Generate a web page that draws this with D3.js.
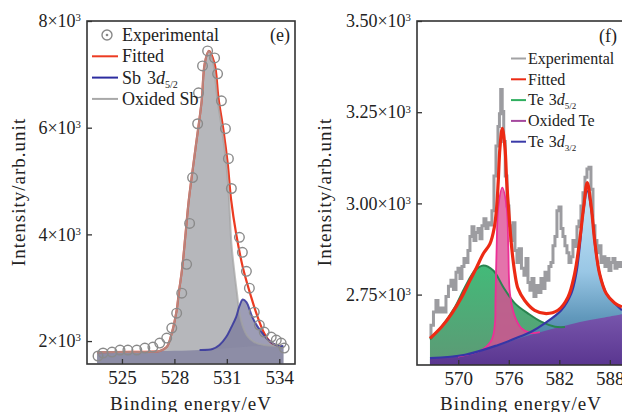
<!DOCTYPE html>
<html>
<head>
<meta charset="utf-8">
<script src="https://cdn.jsdelivr.net/npm/d3@7"></script>
<style>
  body { margin: 0; background: #fff; }
  svg text { font-family: "Liberation Serif", "Times New Roman", serif; fill: #222; }
</style>
</head>
<body>
<svg id="chart" width="622" height="412"></svg>
<script>
// ---- panel (e): Sb 3d [binding energy eV, counts] ----
const sbExperimental = [
  [523.63,1720],[523.92,1776],[524.43,1794],[524.89,1832],[525.34,1832],[525.85,1832],
  [526.31,1869],[526.77,1888],[527.16,1963],[527.56,2056],[527.85,2243],[528.13,2523],
  [528.42,2897],[528.70,3439],[528.87,4205],[529.04,5065],[529.33,6074],[529.38,6654],
  [529.61,7158],[529.90,7439],[530.30,7308],[530.47,7009],[530.69,6504],[530.92,5981],
  [531.09,5420],[531.26,4860],[531.72,3944],[531.89,3663],[532.12,3308],[532.29,2991],
  [532.57,2542],[532.86,2299],[533.14,2168],[533.54,2075],[533.83,2019],[534.11,1963],
  [534.28,1869]
];
const sbFitted = [
  [523.58,1794],[525.46,1796],[526.59,1800],[527.16,1815],[527.56,1888],[527.85,2150],
  [528.13,2579],[528.25,2897],[528.45,3383],[528.64,4019],[528.82,4635],[529.19,5570],
  [529.56,6504],[529.73,7196],[529.97,7439],[530.30,7196],[530.52,6560],[530.81,5944],
  [531.05,5327],[531.25,4635],[531.53,4019],[531.91,3389],[532.39,2828],[532.76,2454],
  [533.14,2144],[533.43,2000],[533.77,1925],[534.11,1907]
];
const sbOxided = [
  [523.58,1794],[525.46,1796],[526.59,1800],[527.16,1815],[527.56,1888],[527.85,2150],
  [528.13,2579],[528.25,2897],[528.45,3383],[528.64,4019],[528.82,4635],[529.19,5570],
  [529.56,6504],[529.73,7196],[529.97,7439],[530.23,7196],[530.45,6560],[530.73,5944],
  [530.97,5327],[531.13,4635],[531.26,3832],[531.40,3383],[531.58,2897],[531.70,2579],
  [531.89,2299],[532.18,2093],[532.57,1981],[533.14,1925],[534.00,1907],[534.23,1907]
];
const sbMetal = [
  [529.44,1832],[530.18,1850],[530.58,1925],[530.96,2075],[531.26,2262],[531.53,2449],
  [531.72,2654],[531.91,2779],[532.12,2729],[532.46,2449],[532.74,2280],[533.03,2150],
  [533.31,2037],[533.60,1963],[534.00,1907],[534.23,1907]
];
const sbBackground = [
  [523.58,1794],[525.46,1794],[527.16,1813],[528.82,1825],[530.01,1841],
  [531.15,1869],[532.29,1897],[533.43,1907],[534.23,1907]
];
const sbXTicks = [525, 528, 531, 534];
const sbYTicks = [2000, 4000, 6000, 8000];

// ---- panel (f): Te 3d ----
const teExperimental = [
  [566.64,2631],[566.88,2666],[567.23,2702],[567.47,2734],[567.71,2702],[568.06,2713],
  [568.42,2702],[568.66,2745],[569.01,2773],[569.25,2789],[569.61,2764],[569.85,2811],
  [570.08,2822],[570.32,2794],[570.56,2827],[570.80,2849],[571.03,2838],[571.27,2871],
  [571.51,2909],[571.75,2936],[571.98,2898],[572.22,2920],[572.46,2931],[572.70,2903],
  [572.93,2939],[573.17,2958],[573.41,2931],[573.65,2947],[573.88,2941],[574.12,2980],
  [574.36,3075],[574.60,3157],[574.83,3211],[574.95,3246],[575.13,3312],[575.31,3252],
  [575.49,3170],[575.67,3075],[575.90,2993],[576.14,2939],[576.38,2898],[576.62,2947],
  [576.85,2871],[577.09,2838],[577.33,2876],[577.68,2822],[577.92,2803],[578.16,2849],
  [578.40,2783],[578.63,2762],[578.87,2794],[579.11,2745],[579.35,2775],[579.70,2756],
  [579.94,2794],[580.18,2767],[580.42,2811],[580.65,2789],[580.89,2827],[581.13,2838],
  [581.37,2884],[581.60,2909],[581.84,2980],[582.08,2990],[582.32,2931],[582.55,2909],
  [582.79,2884],[583.03,2865],[583.27,2838],[583.50,2854],[583.74,2898],[583.98,2882],
  [584.22,2936],[584.45,2952],[584.69,2993],[584.93,3029],[585.17,3072],[585.40,3094],
  [585.64,3099],[585.88,3039],[586.12,2939],[586.35,2898],[586.59,2865],[586.83,2884],
  [587.07,2838],[587.30,2854],[587.54,2827],[587.78,2849],[588.02,2816],[588.25,2838],
  [588.49,2849],[588.73,2822],[588.97,2838],[589.20,2827],[589.44,2838]
];
const teFitted = [
  [566.64,2630],[568.03,2662],[569.22,2698],[570.40,2743],[571.39,2789],[572.19,2825],
  [572.97,2862],[573.76,2889],[574.28,2934],[574.56,2989],[574.75,3061],[574.95,3152],
  [575.23,3206],[575.55,3152],[575.75,3061],[576.02,2971],[576.34,2880],[576.73,2807],
  [577.09,2767],[577.89,2734],[579.07,2707],[580.45,2698],[581.84,2707],[583.03,2743],
  [583.82,2807],[584.42,2898],[584.89,2989],[585.32,3057],[585.80,2989],[586.20,2898],
  [586.79,2807],[587.58,2753],[588.57,2727],[589.44,2716]
];
const te52 = [
  [566.64,2627],[568.03,2662],[569.61,2716],[570.80,2771],[571.98,2816],[572.97,2830],
  [574.16,2816],[575.34,2771],[576.73,2726],[578.31,2698],[579.90,2675],[581.48,2662],
  [582.67,2661]
];
const teOxided = [
  [569.96,2580],[572.78,2598],[573.97,2626],[574.36,2672],[574.42,2734],[574.56,2880],
  [574.75,2989],[575.23,3043],[575.75,2989],[575.94,2880],[576.14,2753],[576.73,2689],
  [577.53,2657],[578.52,2645],[579.70,2647]
];
const te32 = [
  [566.64,2576],[570.80,2585],[574.75,2612],[577.33,2635],[578.67,2648],[580.26,2671],
  [582.23,2707],[583.42,2753],[584.01,2807],[584.42,2880],[584.81,2971],[585.32,3034],
  [585.88,2971],[586.27,2880],[586.79,2807],[587.58,2753],[588.57,2726],[589.44,2707]
];
const teBackground = [
  [566.64,2574],[567.83,2577],[570.20,2582],[572.58,2596],[574.95,2612],[577.33,2631],
  [579.70,2647],[582.08,2661],[584.45,2675],[586.83,2685],[589.44,2696]
];
const teXTicks = [570, 576, 582, 588];
const teYTicks = [2750, 3000, 3250, 3500];


const svg = d3.select("#chart");
const defs = svg.append("defs");

// vertical gradients for the Te fills (screen coords)
function vGrad(id, y1, y2, stops) {
  const g = defs.append("linearGradient").attr("id", id)
    .attr("gradientUnits", "userSpaceOnUse")
    .attr("x1", 0).attr("x2", 0).attr("y1", y1).attr("y2", y2);
  stops.forEach(s => g.append("stop").attr("offset", s[0]).attr("stop-color", s[1]));
}
vGrad("gGreen", 262, 362, [[0, "#2db46a"], [1, "#4a8f66"]]);
vGrad("gBlue", 188, 340, [[0, "#c6e6f8"], [0.55, "#94c4e4"], [0.85, "#5993b8"], [1, "#4a7fa6"]]);
vGrad("gPurple", 310, 365, [[0, "#7a58ae"], [1, "#5a3690"]]);

const smooth = d3.curveCatmullRom.alpha(0.5);

// frame + inward ticks + sci labels, shared by both panels
function drawFrame(box, x, y, xt, yt, yfmt) {
  const g = svg.append("g");

  const xa = g.append("g")
    .attr("transform", `translate(0,${box.y + box.h})`)
    .call(d3.axisBottom(x).tickValues(xt).tickSizeInner(-5).tickSizeOuter(0).tickPadding(7));
  const ya = g.append("g")
    .attr("transform", `translate(${box.x},0)`)
    .call(d3.axisLeft(y).tickValues(yt).tickSizeInner(-5).tickSizeOuter(0).tickPadding(6).tickFormat(""));

  [xa, ya].forEach(a => {
    a.select(".domain").remove();
    a.attr("color", "#333").attr("font-size", 19);
    a.selectAll(".tick line").attr("stroke-width", 1.3);
  });
  ya.attr("font-size", 18);

  // mantissa x 10^3
  ya.selectAll(".tick text").each(function (d) {
    const t = d3.select(this);
    t.text(yfmt(d / 1000) + "\u00d710");
    t.append("tspan").attr("dy", "-0.55em").attr("font-size", "0.6em").text("3");
  });

  g.append("rect")
    .attr("x", box.x).attr("y", box.y)
    .attr("width", box.w).attr("height", box.h)
    .attr("fill", "none").attr("stroke", "#333").attr("stroke-width", 1.6);
}

function axisTitles(cx, ytx) {
  svg.append("text")
    .attr("x", cx).attr("y", 410)
    .attr("text-anchor", "middle").attr("font-size", 19).attr("letter-spacing", 1)
    .text("Binding energy/eV");
  svg.append("text")
    .attr("transform", `translate(${ytx},192) rotate(-90)`)
    .attr("text-anchor", "middle").attr("font-size", 19).attr("letter-spacing", 1)
    .text("Intensity/arb.unit");
}

// "Te 3d5/2" style label
function richText(sel, parts) {
  parts.forEach(p => {
    const ts = sel.append("tspan").text(p.t);
    if (p.it) ts.attr("font-style", "italic");
    if (p.dx) ts.attr("dx", p.dx);
    if (p.sub) ts.attr("font-size", "0.56em").attr("dy", "0.4em");
  });
}


// ================= panel (e) =================
const boxE = { x: 87, y: 21, w: 208, h: 343 };
const xE = d3.scaleLinear().domain([523.0, 534.9]).range([boxE.x, boxE.x + boxE.w]);
const yE = d3.scaleLinear().domain([1570, 8000]).range([boxE.y + boxE.h, boxE.y]);
const baseE = 1585;

defs.append("clipPath").attr("id", "clipE").append("rect")
  .attr("x", boxE.x).attr("y", boxE.y).attr("width", boxE.w).attr("height", boxE.h);

const gE = svg.append("g").attr("clip-path", "url(#clipE)");
const areaE = d3.area().x(d => xE(d[0])).y0(yE(baseE)).y1(d => yE(d[1])).curve(smooth);
const lineE = d3.line().x(d => xE(d[0])).y(d => yE(d[1])).curve(smooth);

gE.append("path").attr("d", areaE(sbOxided)).attr("fill", "#b6b7bb");
gE.append("path").attr("d", areaE(sbMetal)).attr("fill", "#77779a").attr("opacity", 0.72);
gE.append("path").attr("d", areaE(sbBackground)).attr("fill", "#8d8da6");

gE.append("path").attr("d", lineE(sbFitted))
  .attr("fill", "none").attr("stroke", "#ec3b22").attr("stroke-width", 2.2);
gE.append("path").attr("d", lineE(sbOxided))
  .attr("fill", "none").attr("stroke", "#a2a2a2").attr("stroke-width", 2).attr("opacity", 0.7);
gE.append("path").attr("d", lineE(sbMetal))
  .attr("fill", "none").attr("stroke", "#34349c").attr("stroke-width", 2).attr("opacity", 0.85);

gE.selectAll("circle.exp")
  .data(sbExperimental)
  .join("circle")
  .attr("class", "exp")
  .attr("cx", d => xE(d[0]))
  .attr("cy", d => yE(d[1]))
  .attr("r", 4.8)
  .attr("fill", "none")
  .attr("stroke", "#8a8a8a")
  .attr("stroke-width", 1.4);

drawFrame(boxE, xE, yE, sbXTicks, sbYTicks, d3.format("d"));
axisTitles(191, 25);

// legend (e)
const legE = svg.append("g").attr("font-size", 18);
const legERows = [
  { kind: "dot", parts: [{ t: "Experimental" }] },
  { kind: "line", color: "#ec3b22", parts: [{ t: "Fitted" }] },
  { kind: "line", color: "#2c2ca0", parts: [{ t: "Sb" }, { t: "3", dx: 6 }, { t: "d", it: true }, { t: "5/2", sub: true }] },
  { kind: "line", color: "#a8a8a8", parts: [{ t: "Oxided Sb" }] }
];
legERows.forEach((r, i) => {
  const cy = 35 + i * 21.3;
  if (r.kind === "dot") {
    legE.append("circle").attr("cx", 107).attr("cy", cy).attr("r", 5)
      .attr("fill", "#fff").attr("stroke", "#888").attr("stroke-width", 1.4);
    legE.append("circle").attr("cx", 107).attr("cy", cy).attr("r", 1.3).attr("fill", "#888");
  } else {
    legE.append("line").attr("x1", 92).attr("x2", 118).attr("y1", cy).attr("y2", cy)
      .attr("stroke", r.color).attr("stroke-width", 2);
  }
  richText(legE.append("text").attr("x", 122).attr("y", cy + 6), r.parts);
});
svg.append("text").attr("x", 290).attr("y", 41).attr("text-anchor", "end")
  .attr("font-size", 18).text("(e)");


// ================= panel (f) =================
const boxF = { x: 417, y: 21, w: 240, h: 344 };
const xF = d3.scaleLinear().domain([565.1, 591]).range([boxF.x, boxF.x + 25.9 * 8.42]);
const yF = d3.scaleLinear().domain([2557, 3500]).range([boxF.y + boxF.h, boxF.y]);
const baseF = 2557;

defs.append("clipPath").attr("id", "clipF").append("rect")
  .attr("x", boxF.x).attr("y", boxF.y).attr("width", boxF.w).attr("height", boxF.h);

const gF = svg.append("g").attr("clip-path", "url(#clipF)");
const areaF = d3.area().x(d => xF(d[0])).y0(yF(baseF)).y1(d => yF(d[1])).curve(smooth);
const lineF = d3.line().x(d => xF(d[0])).y(d => yF(d[1])).curve(smooth);

gF.append("path")
  .attr("d", d3.line().x(d => xF(d[0])).y(d => yF(d[1])).curve(d3.curveStep)(teExperimental))
  .attr("fill", "none").attr("stroke", "#9c9ca0").attr("stroke-width", 3);

gF.append("path").attr("d", areaF(te52)).attr("fill", "url(#gGreen)").attr("opacity", 0.9);
gF.append("path").attr("d", areaF(teOxided)).attr("fill", "#dd4c93").attr("opacity", 0.78);
gF.append("path").attr("d", areaF(te32)).attr("fill", "url(#gBlue)").attr("opacity", 0.95);
gF.append("path").attr("d", areaF(teBackground)).attr("fill", "url(#gPurple)");

gF.append("path").attr("d", lineF(te52))
  .attr("fill", "none").attr("stroke", "#2a8450").attr("stroke-width", 2);
gF.append("path").attr("d", lineF(teOxided))
  .attr("fill", "none").attr("stroke", "#ec2f96").attr("stroke-width", 1.8);
gF.append("path").attr("d", lineF(te32))
  .attr("fill", "none").attr("stroke", "#3636a6").attr("stroke-width", 2.2);
gF.append("path").attr("d", lineF(teFitted))
  .attr("fill", "none").attr("stroke", "#ec2a14").attr("stroke-width", 3.2);

drawFrame(boxF, xF, yF, teXTicks, teYTicks, d3.format(".2f"));
axisTitles(521, 331);

// legend (f)
const legF = svg.append("g").attr("font-size", 16);
const legFRows = [
  { color: "#a2a2a4", parts: [{ t: "Experimental" }] },
  { color: "#ec2a14", parts: [{ t: "Fitted" }] },
  { color: "#2fae5f", parts: [{ t: "Te" }, { t: "3", dx: 5 }, { t: "d", it: true }, { t: "5/2", sub: true }] },
  { color: "#a4489e", parts: [{ t: "Oxided Te" }] },
  { color: "#3a3aa8", parts: [{ t: "Te" }, { t: "3", dx: 5 }, { t: "d", it: true }, { t: "3/2", sub: true }] }
];
legFRows.forEach((r, i) => {
  const cy = 58.5 + i * 20.8;
  legF.append("line").attr("x1", 511).attr("x2", 526).attr("y1", cy).attr("y2", cy)
    .attr("stroke", r.color).attr("stroke-width", 2);
  richText(legF.append("text").attr("x", 528).attr("y", cy + 5.3), r.parts);
});
svg.append("text").attr("x", 617).attr("y", 42).attr("text-anchor", "end")
  .attr("font-size", 18).text("(f)");
</script>
</body>
</html>
